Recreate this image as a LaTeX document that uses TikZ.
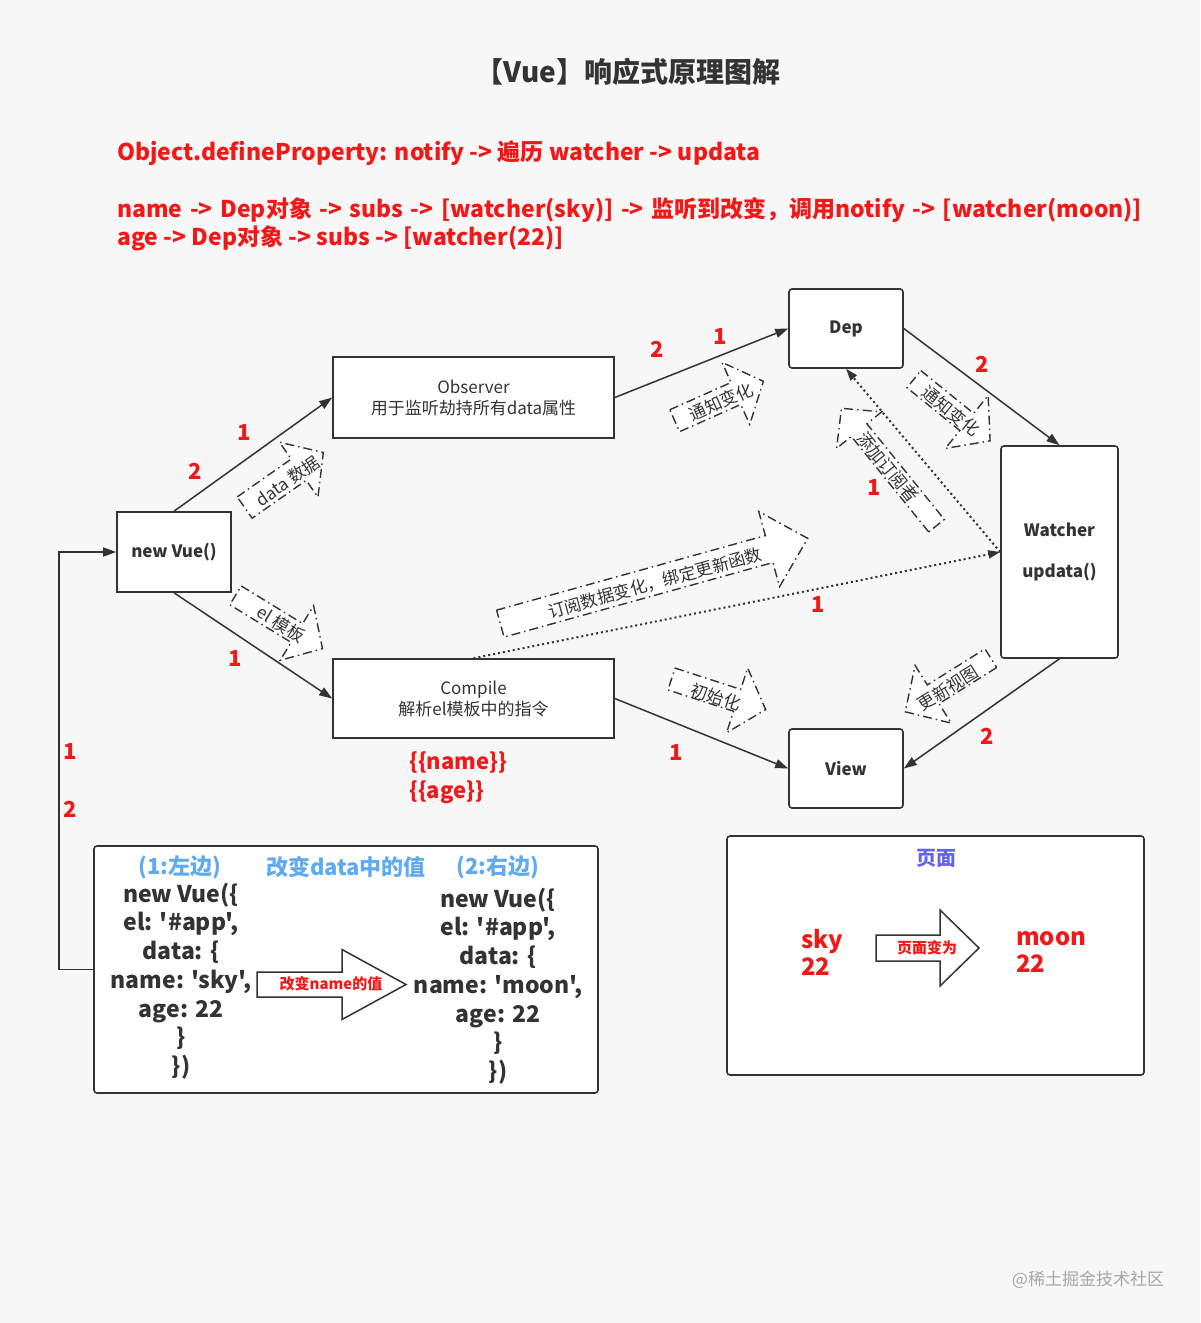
\documentclass[tikz,border=0pt]{standalone}
\usepackage{fontspec}
\setmainfont{Noto Sans CJK SC}
\newfontfamily\rawfont{Noto Sans CJK SC}
\usetikzlibrary{arrows.meta}
\definecolor{bg}{RGB}{247,247,247}
\definecolor{ink}{RGB}{51,51,51}
\definecolor{rd}{RGB}{242,24,24}
\definecolor{lblue}{RGB}{95,170,240}
\definecolor{pblue}{RGB}{100,100,235}
\newcommand{\blockarr}[8]{%
  \begin{scope}[shift={(#2,#3)},rotate=#4]
    \draw[#1] ({-(#5)/2},{-(#7)}) -- ({(#5)/2-(#6)},{-(#7)}) -- ({(#5)/2-(#6)},{-(#8)}) -- ({(#5)/2},0) -- ({(#5)/2-(#6)},{#8}) -- ({(#5)/2-(#6)},{#7}) -- ({-(#5)/2},{#7}) -- cycle;
  \end{scope}}
\tikzset{
  box/.style={draw=ink, line width=1.6pt, fill=white, inner sep=0pt, text=ink, align=center, font=\fontsize{17}{21}\selectfont},
  rbox/.style={box, rounded corners=3pt},
  boldlbl/.style={font=\fontsize{17}{21}\selectfont\bfseries},
  conn/.style={draw=ink, line width=1.5pt, -{Triangle[length=13pt,width=9pt]}},
  dotline/.style={draw=ink, line width=2pt, dash pattern=on 2pt off 3pt, -{Triangle[length=12pt,width=8pt]}},
  num/.style={text=rd, font=\fontsize{22}{24}\selectfont\bfseries, inner sep=0pt},
  dda/.style={draw=ink, line width=1.4pt, dash pattern=on 9pt off 4pt on 1.5pt off 4pt, fill=white},
  solidarr/.style={draw=ink, line width=1.5pt, fill=white},
  dlabel/.style={text=ink, font=\fontsize{17}{19}\selectfont, inner sep=0pt},
  redline/.style={anchor=base west, text=rd, font=\fontsize{23}{26}\selectfont\bfseries, inner sep=0pt},
  code/.style={text=ink, align=center, font=\rawfont\fontsize{23}{28.7}\selectfont\bfseries, inner sep=0pt},
  bluehead/.style={text=lblue, font=\fontsize{22}{24}\selectfont\bfseries, inner sep=0pt},
}
\begin{document}
\begin{tikzpicture}[x=1pt,y=-1pt]
\fill[bg] (0,0) rectangle (1200,1323);
\useasboundingbox (0,0) rectangle (1200,1323);

% header
\node[text=ink, font=\fontsize{28}{30}\selectfont\bfseries, inner sep=0pt] (title) at (628,72) {【Vue】响应式原理图解};
\node[redline] (l1) at (117,160) {Object.defineProperty: notify -> 遍历 watcher -> updata};
\node[redline] (l2) at (117,217) {\spaceskip=7.5pt plus 1pt\relax name -> Dep对象 -> subs -> [watcher(sky)] -> 监听到改变，调用notify -> [watcher(moon)]};
\node[redline] (l3) at (117,245) {age -> Dep对象 -> subs -> [watcher(22)]};

% dashed block arrows (drawn first)
\blockarr{dda}{284}{480}{35}{96}{30}{13}{33.5}
\blockarr{dda}{279}{622}{-31.5}{102}{30}{11}{32}
\blockarr{dda}{719}{401}{24}{97}{30}{12}{34}
\blockarr{dda}{952}{410}{-39}{98}{30}{11}{34}
\blockarr{dda}{889}{467}{129}{151}{28}{10}{29}
\blockarr{dda}{654}{581}{15.5}{319}{40}{14}{39}
\blockarr{dda}{718.6}{694.3}{-18}{99}{30}{11.5}{34}
\blockarr{dda}{948}{685}{212}{101}{33}{11}{34}

\node[dlabel, rotate=35] (t1) at (288,481) {data 数据};
\node[dlabel, rotate=-31.5] (t2) at (281,624) {el 模板};
\node[dlabel, rotate=24] (t3) at (721,402) {通知变化};
\node[dlabel, rotate=-39] (t4) at (951,411) {通知变化};
\node[dlabel, rotate=-51] (t5) at (888,467) {添加订阅者};
\node[dlabel, rotate=15.5] (t6) at (655,583) {订阅数据变化，绑定更新函数};
\node[dlabel, rotate=-18] (t7) at (716,697) {初始化};
\node[dlabel, rotate=32] (t8) at (948,688) {更新视图};

% main boxes
\node[box, boldlbl, minimum width=114pt, minimum height=80pt] (vue) at (174,552) {new Vue()};
\node[box, minimum width=281pt, minimum height=81pt] (obs) at (473.5,397.5) {Observer\\用于监听劫持所有data属性};
\node[box, minimum width=281pt, minimum height=79pt] (comp) at (473.5,698.5) {Compile\\解析el模板中的指令};
\node[rbox, boldlbl, minimum width=114pt, minimum height=79pt] (dep) at (846,328.5) {Dep};
\node[rbox, minimum width=117pt, minimum height=212pt, font=\fontsize{17}{41}\selectfont\bfseries] (watch) at (1059.5,552) {Watcher\\updata()};
\node[rbox, boldlbl, minimum width=114pt, minimum height=79pt] (view) at (846,768.5) {View};

% bottom boxes
\node[rbox, minimum width=504pt, minimum height=247pt] (codebox) at (346,969.5) {};
\node[rbox, minimum width=417pt, minimum height=239pt] (page) at (935.5,955.5) {};

% connectors
\draw[conn] (vue.north) -- (obs.west);
\draw[conn] (vue.south) -- (comp.west);
\draw[conn] (obs.east) -- (dep.west);
\draw[conn] (dep.east) -- (watch.north);
\draw[conn] (comp.east) -- (view.west);
\draw[conn] (watch.south) -- (view.east);
\draw[dotline] (comp.north) -- (watch.west);
\draw[dotline] (watch.west) -- (dep.south);
\draw[conn] (codebox.west) -- ++(-34,0) |- (vue.west);

% numbers
\node[num] (n1) at (195,471) {2};
\node[num] (n2) at (244,433) {1};
\node[num] (n3) at (235,659) {1};
\node[num] (n4) at (657,349) {2};
\node[num] (n5) at (720,337) {1};
\node[num] (n6) at (982,364) {2};
\node[num] (n7) at (874,488) {1};
\node[num] (n8) at (818,605) {1};
\node[num] (n9) at (676,753) {1};
\node[num] (n10) at (987,736) {2};
\node[num] (n11) at (70,752) {1};
\node[num] (n12) at (70,809) {2};

% compile template labels
\node[anchor=west, align=left, text=rd, font=\fontsize{22}{29}\selectfont\bfseries, inner sep=0pt] (tpl) at (409,778) {\{\{name\}\}\\\{\{age\}\}};

% code box contents
\node[bluehead] (h1) at (180,867) {(1:左边)};
\node[bluehead] (h2) at (346,867) {改变data中的值};
\node[bluehead] (h3) at (498,867) {(2:右边)};
\node[code] (lc) at (181,981) {new Vue(\{\\el: '\#app',\\data: \{\\name: 'sky',\\age: 22\\\}\\\})};
\node[code] (rc) at (498,986) {new Vue(\{\\el: '\#app',\\data: \{\\name: 'moon',\\age: 22\\\}\\\})};
\blockarr{solidarr}{331.5}{984.5}{0}{149}{64}{12.5}{35}
\node[text=rd, font=\fontsize{15}{17}\selectfont\bfseries, inner sep=0pt] (chg) at (331,984) {改变name的值};

% page box contents
\node[text=pblue, font=\fontsize{20}{22}\selectfont\bfseries, inner sep=0pt] (ph) at (936,858) {页面};
\node[anchor=west, align=left, text=rd, font=\fontsize{24}{27}\selectfont\bfseries, inner sep=0pt] (sky) at (801,952) {sky\\22};
\node[anchor=west, align=left, text=rd, font=\fontsize{24}{27}\selectfont\bfseries, inner sep=0pt] (moon) at (1016,952) {moon\\22};
\blockarr{solidarr}{927.5}{948}{0}{103}{39}{13}{38}
\node[text=rd, font=\fontsize{15}{17}\selectfont\bfseries, inner sep=0pt] (pchg) at (927,948) {页面变为};

% watermark
\node[text=black!35, font=\fontsize{17}{19}\selectfont, inner sep=0pt] (wm) at (1088,1280) {@稀土掘金技术社区};
\end{tikzpicture}
\end{document}
